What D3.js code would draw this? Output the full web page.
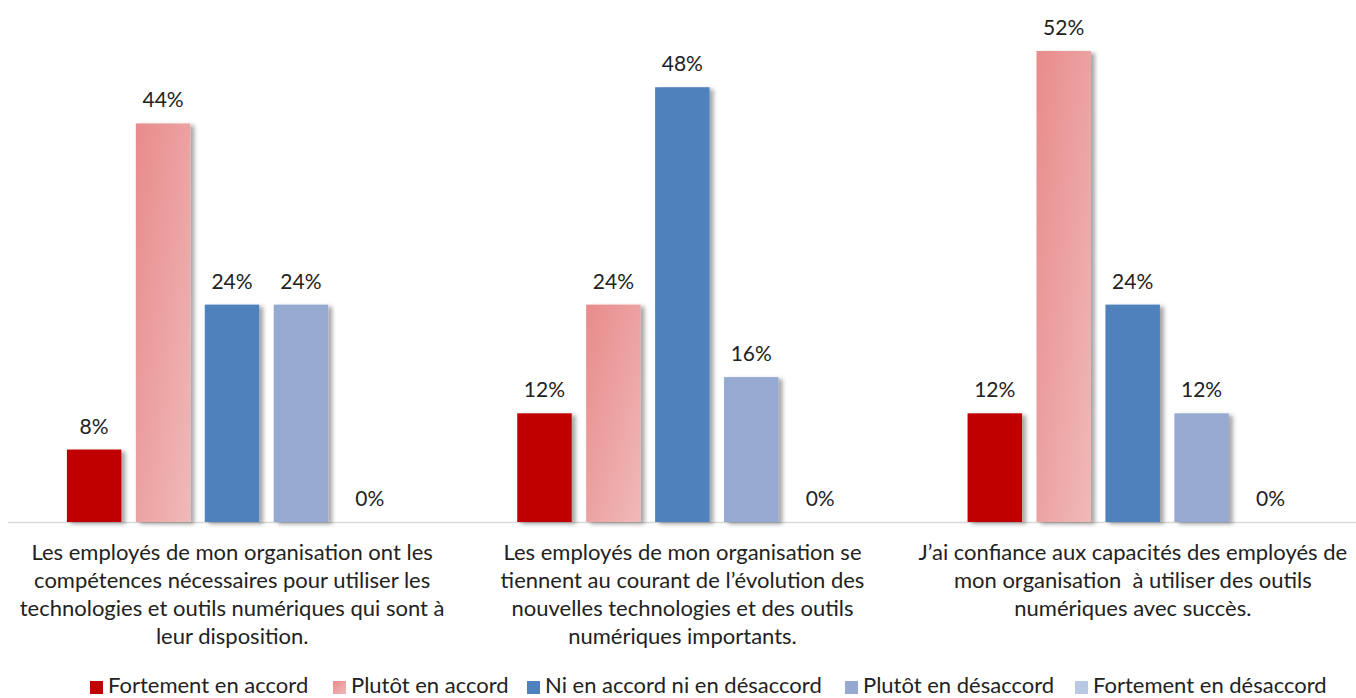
<!DOCTYPE html>
<html><head><meta charset="utf-8">
<script src="https://cdn.jsdelivr.net/npm/d3@7"></script>
<style>body{margin:0;background:#fff;}svg{display:block;font-family:Lato,"Open Sans",sans-serif;}text{white-space:pre;}</style>
</head><body>
<svg id="c" width="1356" height="698"></svg>
<script>
const categories = [
  ["Les employés de mon organisation ont les","compétences nécessaires pour utiliser les","technologies et outils numériques qui sont à","leur disposition."],
  ["Les employés de mon organisation se","tiennent au courant de l’évolution des","nouvelles technologies et des outils","numériques importants."],
  ["J’ai confiance aux capacités des employés de","mon organisation  à utiliser des outils","numériques avec succès."]
];
const seriesNames = ["Fortement en accord","Plutôt en accord","Ni en accord ni en désaccord","Plutôt en désaccord","Fortement en désaccord"];
const fortementAccord = [8,12,12];
const plutotAccord = [44,24,52];
const niNi = [24,48,24];
const plutotDesaccord = [24,16,12];
const fortementDesaccord = [0,0,0];
const seriesValues = [fortementAccord, plutotAccord, niNi, plutotDesaccord, fortementDesaccord];
const colors = ["#c00000","url(#pinkGrad)","#4f81bd","#95a9d1","#b9c8e4"];

const svg = d3.select("#c");
const defs = svg.append("defs");
const g1 = defs.append("linearGradient").attr("id","pinkGrad").attr("x1","0").attr("y1","0").attr("x2","1").attr("y2","1");
g1.append("stop").attr("offset","0").attr("stop-color","#e88b8b");
g1.append("stop").attr("offset","1").attr("stop-color","#f0b9b9");
const f = defs.append("filter").attr("id","sh").attr("x","-20%").attr("y","-5%").attr("width","150%").attr("height","115%");
f.append("feDropShadow").attr("dx",4).attr("dy",2).attr("stdDeviation",2).attr("flood-color","#000").attr("flood-opacity",0.35);

const baseY = 522, yTop = 51;
const y = d3.scaleLinear().domain([0,52]).range([baseY, yTop]);
const x0 = d3.scaleBand().domain(d3.range(categories.length)).range([7,1358]).paddingInner(0).paddingOuter(0);
const x1 = d3.scaleBand().domain(d3.range(seriesNames.length)).range([53,397]).paddingInner(0.21).paddingOuter(0.1);

svg.append("line").attr("x1",8).attr("x2",1356).attr("y1",baseY+0.5).attr("y2",baseY+0.5).attr("stroke","#d9d9d9").attr("stroke-width",1.5);

categories.forEach((c,ci)=>{
  const gx = x0(ci);
  const grp = svg.append("g").attr("transform",`translate(${gx},0)`);
  seriesValues.forEach((vals,si)=>{
    const v = vals[ci];
    const bx = x1(si), bw = x1.bandwidth();
    if (v>0) grp.append("rect").attr("x",bx).attr("y",y(v)).attr("width",bw).attr("height",baseY-y(v))
      .attr("fill",colors[si]).attr("filter","url(#sh)");
    grp.append("text").attr("x",bx+bw/2).attr("y",y(v)-16).attr("text-anchor","middle")
      .attr("font-size",21).attr("fill","#222").text(v+"%");
  });
  const t = svg.append("text").attr("text-anchor","middle").attr("font-size",22).attr("fill","#222");
  c.forEach((line,li)=>{
    t.append("tspan").attr("x",gx+x0.bandwidth()/2).attr("y",560+li*28).text(line);
  });
});

const legX = [90,333,527,845,1075];
seriesNames.forEach((n,i)=>{
  svg.append("rect").attr("x",legX[i]).attr("y",681).attr("width",13).attr("height",13).attr("fill",colors[i]);
  svg.append("text").attr("x",legX[i]+18).attr("y",693).attr("font-size",22).attr("fill","#222").text(n);
});
</script>
</body></html>
